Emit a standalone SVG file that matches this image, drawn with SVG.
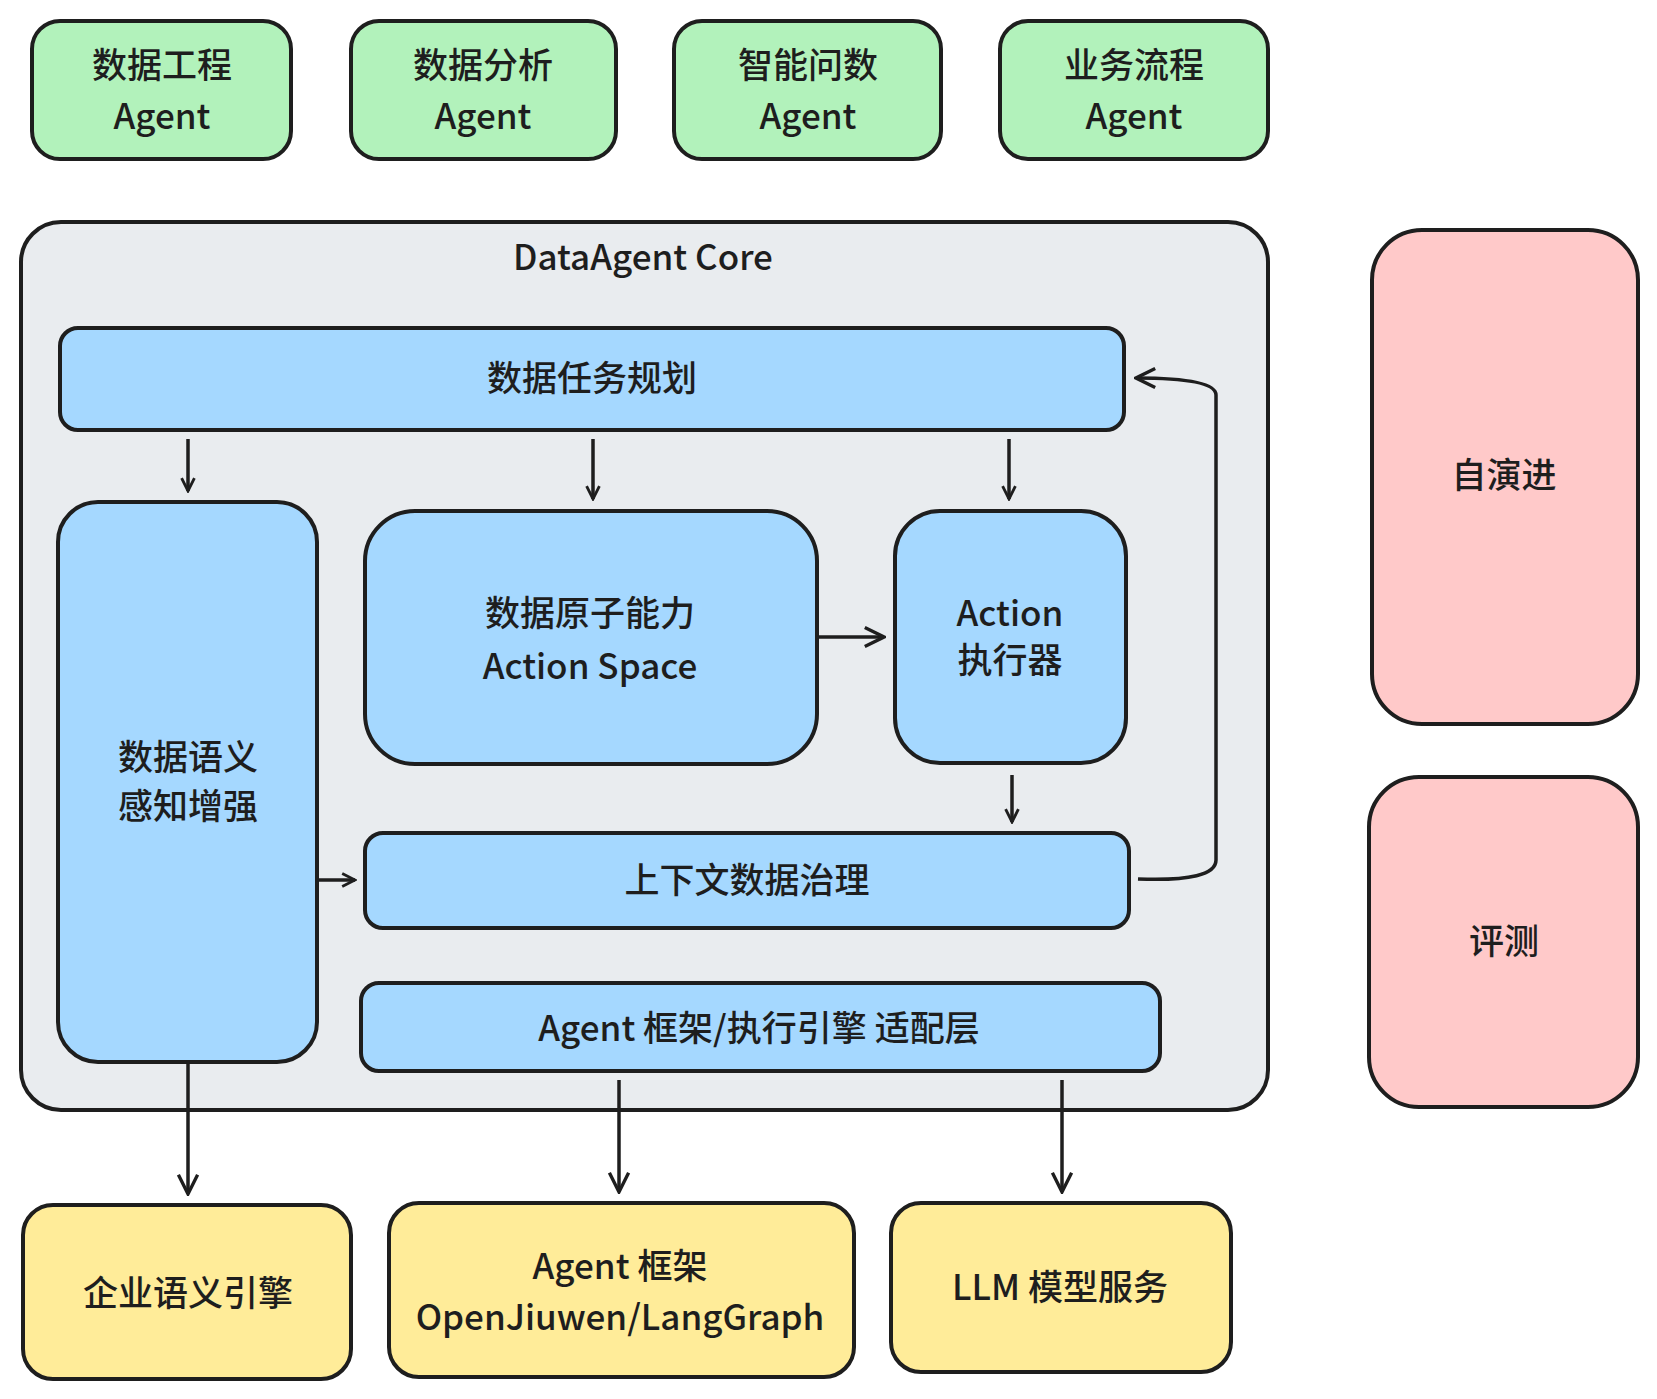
<svg xmlns="http://www.w3.org/2000/svg" width="1657" height="1399" viewBox="0 0 1657 1399">
<defs>
<style>
.b{stroke:#1e1e1e;stroke-width:4}
.g{fill:#b2f2bb}.u{fill:#a5d8ff}.c{fill:#e9ecef}.p{fill:#ffc9c9}.y{fill:#ffec99}
text{font-family:"Noto Sans CJK SC","Noto Sans",sans-serif;font-size:35px;font-weight:500;fill:#1e1e1e;text-anchor:middle;dominant-baseline:central}
.l{fill:none;stroke:#1e1e1e;stroke-width:3.5}
</style>
<marker id="a" viewBox="0 0 20 20" refX="18" refY="10" markerWidth="16" markerHeight="16" markerUnits="userSpaceOnUse" orient="auto"><path d="M2 2L18 10L2 18" fill="none" stroke="#1e1e1e" stroke-width="3.5"/></marker>
<marker id="A" viewBox="0 0 20 20" refX="18" refY="10" markerWidth="24" markerHeight="24" markerUnits="userSpaceOnUse" orient="auto"><path d="M2 2L18 10L2 18" fill="none" stroke="#1e1e1e" stroke-width="2.8"/></marker>
</defs>
<rect width="1657" height="1399" fill="#fff"/>
<g id="n1"><rect class="b g" x="32" y="21" width="259" height="138" rx="28"/><text x="162" y="62">数据工程</text><text x="162" y="113">Agent</text></g>
<g id="n2"><rect class="b g" x="351" y="21" width="265" height="138" rx="28"/><text x="483" y="62">数据分析</text><text x="483" y="113">Agent</text></g>
<g id="n3"><rect class="b g" x="674" y="21" width="267" height="138" rx="28"/><text x="808" y="62">智能问数</text><text x="808" y="113">Agent</text></g>
<g id="n4"><rect class="b g" x="1000" y="21" width="268" height="138" rx="28"/><text x="1134" y="62">业务流程</text><text x="1134" y="113">Agent</text></g>
<g id="core"><rect class="b c" x="21" y="222" width="1247" height="888" rx="40"/><text x="643" y="254">DataAgent Core</text></g>
<g id="plan"><rect class="b u" x="60" y="328" width="1064" height="102" rx="18"/><text x="592" y="375">数据任务规划</text></g>
<g id="sem"><rect class="b u" x="58" y="502" width="259" height="560" rx="40"/><text x="188" y="754">数据语义</text><text x="188" y="803">感知增强</text></g>
<g id="atom"><rect class="b u" x="365" y="511" width="452" height="253" rx="50"/><text x="590" y="610">数据原子能力</text><text x="590" y="663">Action Space</text></g>
<g id="exec"><rect class="b u" x="895" y="511" width="231" height="252" rx="45"/><text x="1010" y="610">Action</text><text x="1010" y="657">执行器</text></g>
<g id="ctx"><rect class="b u" x="365" y="833" width="764" height="95" rx="18"/><text x="747" y="877">上下文数据治理</text></g>
<g id="adp"><rect class="b u" x="361" y="983" width="799" height="88" rx="18"/><text x="759" y="1025">Agent 框架/执行引擎 适配层</text></g>
<g id="evo"><rect class="b p" x="1372" y="230" width="266" height="494" rx="50"/><text x="1504" y="472">自演进</text></g>
<g id="ev"><rect class="b p" x="1369" y="777" width="269" height="330" rx="50"/><text x="1504" y="938">评测</text></g>
<g id="y1"><rect class="b y" x="23" y="1205" width="328" height="174" rx="30"/><text x="188" y="1290">企业语义引擎</text></g>
<g id="y2"><rect class="b y" x="389" y="1203" width="465" height="174" rx="30"/><text x="620" y="1263">Agent 框架</text><text x="620" y="1314">OpenJiuwen/LangGraph</text></g>
<g id="y3"><rect class="b y" x="891" y="1203" width="340" height="169" rx="30"/><text x="1060" y="1284">LLM 模型服务</text></g>
<g id="edges">
<path class="l" d="M188 439V491" marker-end="url(#a)"/>
<path class="l" d="M593 439V499" marker-end="url(#a)"/>
<path class="l" d="M1009 439V499" marker-end="url(#a)"/>
<path class="l" d="M817 637H884" marker-end="url(#A)"/>
<path class="l" d="M1012 775V822" marker-end="url(#a)"/>
<path class="l" d="M317 880H355" marker-end="url(#a)"/>
<path class="l" d="M1138 879Q1216 882 1216 860V395Q1216 378 1136 378" marker-end="url(#A)"/>
<path class="l" d="M188 1062V1194" marker-end="url(#A)"/>
<path class="l" d="M619 1080V1192" marker-end="url(#A)"/>
<path class="l" d="M1062 1080V1192" marker-end="url(#A)"/>
</g>
</svg>
